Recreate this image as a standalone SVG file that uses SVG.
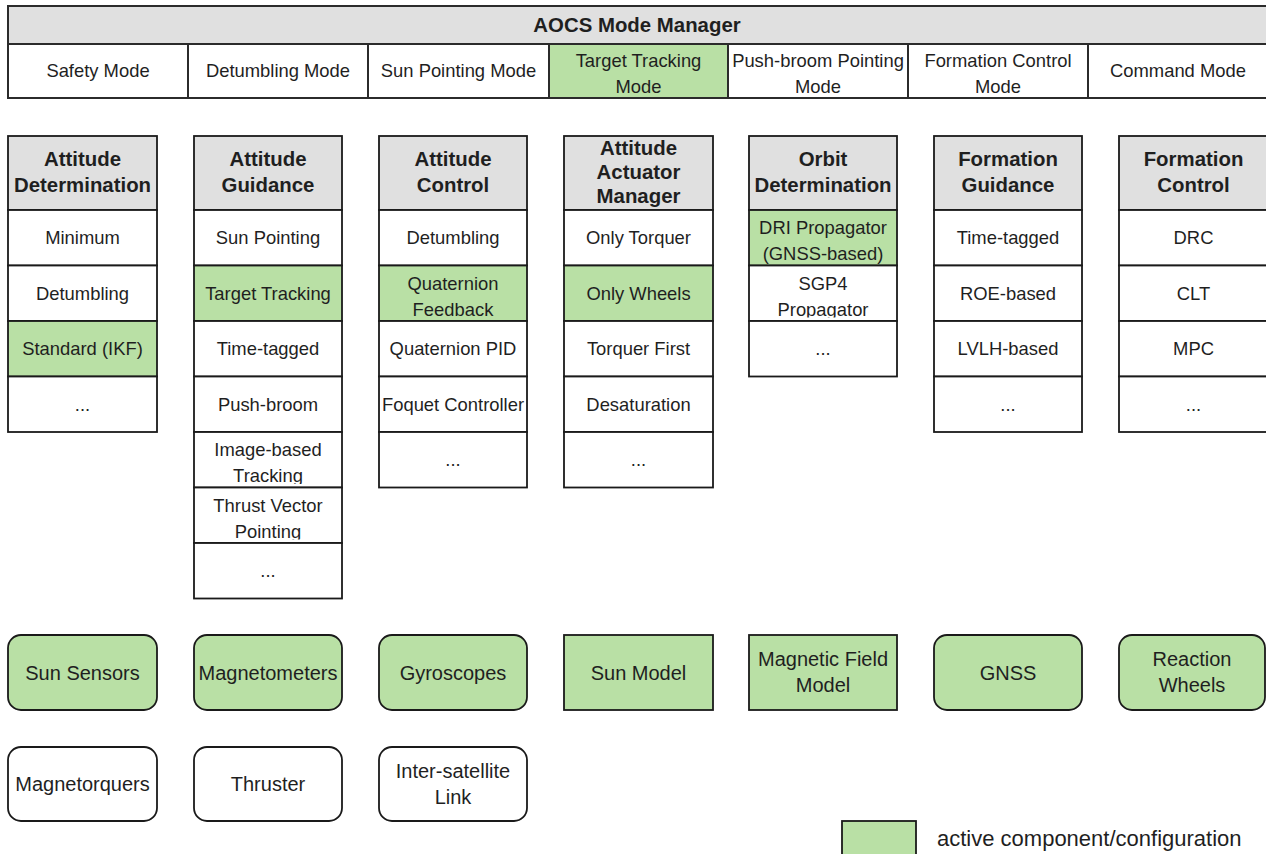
<svg xmlns="http://www.w3.org/2000/svg" width="1266" height="854" viewBox="0 0 1266 854">
  <style>
    rect { stroke: #1a1a1a; stroke-width: 1.8; fill: #ffffff; }
    rect.hd { fill: #e0e0e0; }
    rect.on { fill: #b9e0a5; }
    rect.bar { stroke: #2b2b2b; stroke-width: 2; }
    text { font-family: "Liberation Sans", Arial, sans-serif; fill: #1f1f1f; text-anchor: middle; }
    .t { font-size: 18.4px; }
    .b { font-size: 20.4px; font-weight: bold; }
    .s { font-size: 20px; }
    .lg { font-size: 22px; text-anchor: start; }
  </style>
  <defs>
    <!-- label areas: two-line labels are cut at the bottom of their cell -->
    <clipPath id="clip-sgp4"><rect x="749" y="265.5" width="148" height="52" style="stroke:none"/></clipPath>
    <clipPath id="clip-image"><rect x="194" y="432" width="148" height="52" style="stroke:none"/></clipPath>
    <clipPath id="clip-thrust"><rect x="194" y="487.5" width="148" height="52" style="stroke:none"/></clipPath>
  </defs>
  <rect x="0" y="0" width="1266" height="854" style="fill:#ffffff;stroke:none"/>

  <!-- Mode manager bar -->
  <g id="mode-manager">
    <rect class="bar hd" x="8" y="6" width="1262" height="38"/>
    <text class="b" x="637" y="32">AOCS Mode Manager</text>
  </g>
  <g id="mode-safety">
    <rect class="bar" x="8" y="44" width="180" height="54"/>
    <text class="t" x="98" y="77.4">Safety Mode</text>
  </g>
  <g id="mode-detumbling">
    <rect class="bar" x="188" y="44" width="180" height="54"/>
    <text class="t" x="278" y="77.4">Detumbling Mode</text>
  </g>
  <g id="mode-sun-pointing">
    <rect class="bar" x="368" y="44" width="181" height="54"/>
    <text class="t" x="458.5" y="77.4">Sun Pointing Mode</text>
  </g>
  <g id="mode-target-tracking">
    <rect class="bar on" x="549" y="44" width="179" height="54"/>
    <text class="t" x="638.5" y="67.4">Target Tracking</text>
    <text class="t" x="638.5" y="93.4">Mode</text>
  </g>
  <g id="mode-push-broom">
    <rect class="bar" x="728" y="44" width="180" height="54"/>
    <text class="t" x="818" y="67.4">Push-broom Pointing</text>
    <text class="t" x="818" y="93.4">Mode</text>
  </g>
  <g id="mode-formation-control">
    <rect class="bar" x="908" y="44" width="180" height="54"/>
    <text class="t" x="998" y="67.4">Formation Control</text>
    <text class="t" x="998" y="93.4">Mode</text>
  </g>
  <g id="mode-command">
    <rect class="bar" x="1088" y="44" width="182" height="54"/>
    <text class="t" x="1178" y="77.4">Command Mode</text>
  </g>

  <!-- Attitude Determination -->
  <g id="attitude-determination">
    <rect class="hd" x="8" y="136" width="149" height="74"/>
    <text class="b" x="82.5" y="166">Attitude</text>
    <text class="b" x="82.5" y="192">Determination</text>
    <rect x="8" y="210" width="149" height="55.5"/>
    <text class="t" x="82.5" y="244.2">Minimum</text>
    <rect x="8" y="265.5" width="149" height="55.5"/>
    <text class="t" x="82.5" y="299.7">Detumbling</text>
    <rect class="on" x="8" y="321" width="149" height="55.5"/>
    <text class="t" x="82.5" y="355.2">Standard (IKF)</text>
    <rect x="8" y="376.5" width="149" height="55.5"/>
    <text class="t" x="82.5" y="410.7">...</text>
  </g>

  <!-- Attitude Guidance -->
  <g id="attitude-guidance">
    <rect class="hd" x="194" y="136" width="148" height="74"/>
    <text class="b" x="268" y="166">Attitude</text>
    <text class="b" x="268" y="192">Guidance</text>
    <rect x="194" y="210" width="148" height="55.5"/>
    <text class="t" x="268" y="244.2">Sun Pointing</text>
    <rect class="on" x="194" y="265.5" width="148" height="55.5"/>
    <text class="t" x="268" y="299.7">Target Tracking</text>
    <rect x="194" y="321" width="148" height="55.5"/>
    <text class="t" x="268" y="355.2">Time-tagged</text>
    <rect x="194" y="376.5" width="148" height="55.5"/>
    <text class="t" x="268" y="410.7">Push-broom</text>
    <rect x="194" y="432" width="148" height="55.5"/>
    <g clip-path="url(#clip-image)">
      <text class="t" x="268" y="456.2">Image-based</text>
      <text class="t" x="268" y="482.2">Tracking</text>
    </g>
    <rect x="194" y="487.5" width="148" height="55.5"/>
    <g clip-path="url(#clip-thrust)">
      <text class="t" x="268" y="511.7">Thrust Vector</text>
      <text class="t" x="268" y="537.7">Pointing</text>
    </g>
    <rect x="194" y="543" width="148" height="55.5"/>
    <text class="t" x="268" y="577.2">...</text>
  </g>

  <!-- Attitude Control -->
  <g id="attitude-control">
    <rect class="hd" x="379" y="136" width="148" height="74"/>
    <text class="b" x="453" y="166">Attitude</text>
    <text class="b" x="453" y="192">Control</text>
    <rect x="379" y="210" width="148" height="55.5"/>
    <text class="t" x="453" y="244.2">Detumbling</text>
    <rect class="on" x="379" y="265.5" width="148" height="55.5"/>
    <text class="t" x="453" y="289.7">Quaternion</text>
    <text class="t" x="453" y="315.7">Feedback</text>
    <rect x="379" y="321" width="148" height="55.5"/>
    <text class="t" x="453" y="355.2">Quaternion PID</text>
    <rect x="379" y="376.5" width="148" height="55.5"/>
    <text class="t" x="453" y="410.7">Foquet Controller</text>
    <rect x="379" y="432" width="148" height="55.5"/>
    <text class="t" x="453" y="466.2">...</text>
  </g>

  <!-- Attitude Actuator Manager -->
  <g id="attitude-actuator-manager">
    <rect class="hd" x="564" y="136" width="149" height="74"/>
    <text class="b" x="638.5" y="155">Attitude</text>
    <text class="b" x="638.5" y="179">Actuator</text>
    <text class="b" x="638.5" y="203">Manager</text>
    <rect x="564" y="210" width="149" height="55.5"/>
    <text class="t" x="638.5" y="244.2">Only Torquer</text>
    <rect class="on" x="564" y="265.5" width="149" height="55.5"/>
    <text class="t" x="638.5" y="299.7">Only Wheels</text>
    <rect x="564" y="321" width="149" height="55.5"/>
    <text class="t" x="638.5" y="355.2">Torquer First</text>
    <rect x="564" y="376.5" width="149" height="55.5"/>
    <text class="t" x="638.5" y="410.7">Desaturation</text>
    <rect x="564" y="432" width="149" height="55.5"/>
    <text class="t" x="638.5" y="466.2">...</text>
  </g>

  <!-- Orbit Determination -->
  <g id="orbit-determination">
    <rect class="hd" x="749" y="136" width="148" height="74"/>
    <text class="b" x="823" y="166">Orbit</text>
    <text class="b" x="823" y="192">Determination</text>
    <rect class="on" x="749" y="210" width="148" height="55.5"/>
    <text class="t" x="823" y="234.2">DRI Propagator</text>
    <text class="t" x="823" y="260.2">(GNSS-based)</text>
    <rect x="749" y="265.5" width="148" height="55.5"/>
    <g clip-path="url(#clip-sgp4)">
      <text class="t" x="823" y="289.7">SGP4</text>
      <text class="t" x="823" y="315.7">Propagator</text>
    </g>
    <rect x="749" y="321" width="148" height="55.5"/>
    <text class="t" x="823" y="355.2">...</text>
  </g>

  <!-- Formation Guidance -->
  <g id="formation-guidance">
    <rect class="hd" x="934" y="136" width="148" height="74"/>
    <text class="b" x="1008" y="166">Formation</text>
    <text class="b" x="1008" y="192">Guidance</text>
    <rect x="934" y="210" width="148" height="55.5"/>
    <text class="t" x="1008" y="244.2">Time-tagged</text>
    <rect x="934" y="265.5" width="148" height="55.5"/>
    <text class="t" x="1008" y="299.7">ROE-based</text>
    <rect x="934" y="321" width="148" height="55.5"/>
    <text class="t" x="1008" y="355.2">LVLH-based</text>
    <rect x="934" y="376.5" width="148" height="55.5"/>
    <text class="t" x="1008" y="410.7">...</text>
  </g>

  <!-- Formation Control -->
  <g id="formation-control">
    <rect class="hd" x="1119" y="136" width="149" height="74"/>
    <text class="b" x="1193.5" y="166">Formation</text>
    <text class="b" x="1193.5" y="192">Control</text>
    <rect x="1119" y="210" width="149" height="55.5"/>
    <text class="t" x="1193.5" y="244.2">DRC</text>
    <rect x="1119" y="265.5" width="149" height="55.5"/>
    <text class="t" x="1193.5" y="299.7">CLT</text>
    <rect x="1119" y="321" width="149" height="55.5"/>
    <text class="t" x="1193.5" y="355.2">MPC</text>
    <rect x="1119" y="376.5" width="149" height="55.5"/>
    <text class="t" x="1193.5" y="410.7">...</text>
  </g>

  <!-- Sensors, models and actuators -->
  <g id="sun-sensors">
    <rect class="on" x="8" y="635" width="149" height="75" rx="13"/>
    <text class="s" x="82.5" y="679.5">Sun Sensors</text>
  </g>
  <g id="magnetometers">
    <rect class="on" x="194" y="635" width="148" height="75" rx="13"/>
    <text class="s" x="268" y="679.5">Magnetometers</text>
  </g>
  <g id="gyroscopes">
    <rect class="on" x="379" y="635" width="148" height="75" rx="13"/>
    <text class="s" x="453" y="679.5">Gyroscopes</text>
  </g>
  <g id="sun-model">
    <rect class="on" x="564" y="635" width="149" height="75"/>
    <text class="s" x="638.5" y="679.5">Sun Model</text>
  </g>
  <g id="magnetic-field-model">
    <rect class="on" x="749" y="635" width="148" height="75"/>
    <text class="s" x="823" y="666">Magnetic Field</text>
    <text class="s" x="823" y="692">Model</text>
  </g>
  <g id="gnss">
    <rect class="on" x="934" y="635" width="148" height="75" rx="13"/>
    <text class="s" x="1008" y="679.5">GNSS</text>
  </g>
  <g id="reaction-wheels">
    <rect class="on" x="1119" y="635" width="146" height="75" rx="13"/>
    <text class="s" x="1192" y="666">Reaction</text>
    <text class="s" x="1192" y="692">Wheels</text>
  </g>
  <g id="magnetorquers">
    <rect x="8" y="747" width="149" height="74" rx="13"/>
    <text class="s" x="82.5" y="791">Magnetorquers</text>
  </g>
  <g id="thruster">
    <rect x="194" y="747" width="148" height="74" rx="13"/>
    <text class="s" x="268" y="791">Thruster</text>
  </g>
  <g id="inter-satellite-link">
    <rect x="379" y="747" width="148" height="74" rx="13"/>
    <text class="s" x="453" y="778">Inter-satellite</text>
    <text class="s" x="453" y="804">Link</text>
  </g>

  <!-- Legend -->
  <g id="legend">
    <rect class="on" x="842" y="821" width="74" height="40"/>
    <text class="lg" x="937" y="845.7">active component/configuration</text>
  </g>
</svg>
